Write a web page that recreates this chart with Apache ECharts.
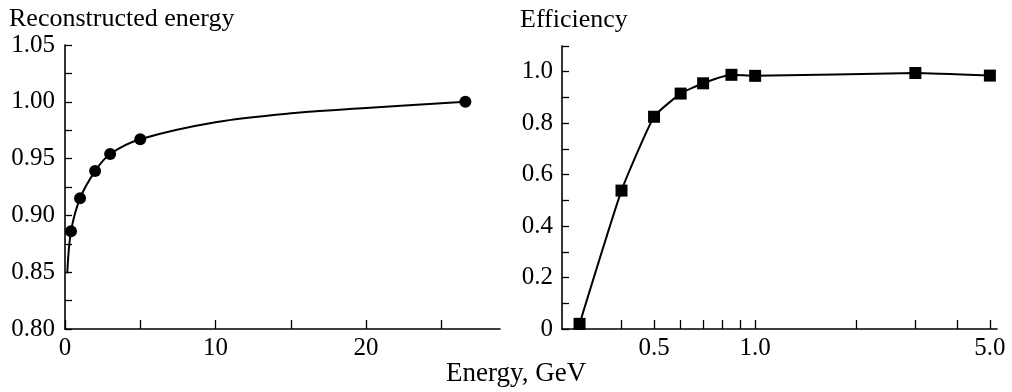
<!DOCTYPE html>
<html>
<head>
<meta charset="utf-8">
<script src="https://cdn.jsdelivr.net/npm/echarts@6/dist/echarts.min.js"></script>
<style>html,body{margin:0;padding:0;background:#fff}#c{width:1012px;height:392px}</style>
</head>
<body>
<div id="c"></div>
<script>
// Left panel: reconstructed energy vs energy (GeV)
const recoEnergyX = [0.4, 1, 2, 3, 5, 26.6];
const recoEnergyY = [0.886, 0.915, 0.939, 0.954, 0.967, 1.000];
const recoFitX = [0.15, 0.4, 1, 2, 3, 5, 10, 15.6, 20, 26.6];
const recoFitY = [0.849, 0.886, 0.915, 0.939, 0.954, 0.967, 0.982, 0.9905, 0.9945, 1.000];
// Right panel: efficiency vs energy (GeV), log axis
const effX = [0.3, 0.4, 0.5, 0.6, 0.7, 0.85, 1.0, 3.0, 5.0];
const effY = [0.02, 0.538, 0.825, 0.915, 0.955, 0.988, 0.984, 0.995, 0.985];
const effTickValues = [0.3, 0.4, 0.5, 0.6, 0.7, 0.8, 0.9, 1.0, 2.0, 3.0, 4.0, 5.0];
const effLabelValues = [0.5, 1.0, 5.0];

const FONT = "'Liberation Serif','Times New Roman',serif";
const zip = (a, b) => a.map((v, i) => [v, b[i]]);
const chart = echarts.init(document.getElementById('c'), null, {renderer: 'canvas'});
const axisLine = {show: true, lineStyle: {color: '#000', width: 1.6}};
const labelStyle = {color: '#000', fontFamily: FONT, fontSize: 25};

chart.setOption({
  backgroundColor: '#fff',
  animation: false,
  grid: [
    {left: 65, top: 45, width: 435, height: 284},
    {left: 562, top: 46, width: 435, height: 283}
  ],
  xAxis: [
    {
      gridIndex: 0, type: 'value', min: 0, max: 28.9, interval: 5,
      axisLine: axisLine,
      axisTick: {show: true, inside: true, length: 9, lineStyle: {color: '#000', width: 1.3}},
      axisLabel: {...labelStyle, margin: 7, showMaxLabel: false,
        formatter: v => (Math.round(v) % 10 === 0 ? String(Math.round(v)) : '')},
      splitLine: {show: false}
    },
    {
      gridIndex: 1, type: 'log', logBase: 10, min: 0.266, max: 5.25,
      axisLine: axisLine,
      axisTick: {show: true, inside: true, length: 9, customValues: effTickValues,
        lineStyle: {color: '#000', width: 1.3}},
      axisLabel: {...labelStyle, margin: 7, customValues: effLabelValues,
        formatter: v => Number(v).toFixed(1)},
      splitLine: {show: false}, minorTick: {show: false}
    }
  ],
  yAxis: [
    {
      gridIndex: 0, type: 'value', min: 0.8, max: 1.05, interval: 0.05,
      axisLine: axisLine,
      axisTick: {show: true, inside: true, length: 7, lineStyle: {color: '#000', width: 1.3}},
      minorTick: {show: true, splitNumber: 2, length: 7, lineStyle: {color: '#000', width: 1.3}},
      axisLabel: {...labelStyle, margin: 10, formatter: v => Number(v).toFixed(2)},
      splitLine: {show: false}
    },
    {
      gridIndex: 1, type: 'value', min: 0, max: 1.1, interval: 0.1,
      axisLine: axisLine,
      axisTick: {show: true, inside: true, length: 7, lineStyle: {color: '#000', width: 1.3}},
      axisLabel: {...labelStyle, margin: 9,
        formatter: v => { const k = Math.round(v * 10); if (k % 2) return ''; return k === 0 ? '0' : (k / 10).toFixed(1); }},
      splitLine: {show: false}
    }
  ],
  series: [
    {type: 'line', xAxisIndex: 0, yAxisIndex: 0, data: zip(recoFitX, recoFitY), smooth: 0.35,
      showSymbol: false, symbol: 'none', lineStyle: {color: '#000', width: 2}, z: 2},
    {type: 'scatter', xAxisIndex: 0, yAxisIndex: 0, data: zip(recoEnergyX, recoEnergyY),
      symbol: 'circle', symbolSize: 12, itemStyle: {color: '#000', opacity: 1}, z: 3},
    {type: 'line', xAxisIndex: 1, yAxisIndex: 1, data: zip(effX, effY), smooth: 0.15,
      symbol: 'rect', symbolSize: 12, showAllSymbol: true,
      itemStyle: {color: '#000', opacity: 1}, lineStyle: {color: '#000', width: 2}, z: 3}
  ],
  graphic: [
    {type: 'text', left: 9, top: 6, style: {text: 'Reconstructed energy', font: '26px ' + FONT, fill: '#000'}},
    {type: 'text', left: 520, top: 7, style: {text: 'Efficiency', font: '26px ' + FONT, fill: '#000'}},
    {type: 'text', left: 446, top: 360, style: {text: 'Energy, GeV', font: '27px ' + FONT, fill: '#000'}}
  ]
});
</script>
</body>
</html>
